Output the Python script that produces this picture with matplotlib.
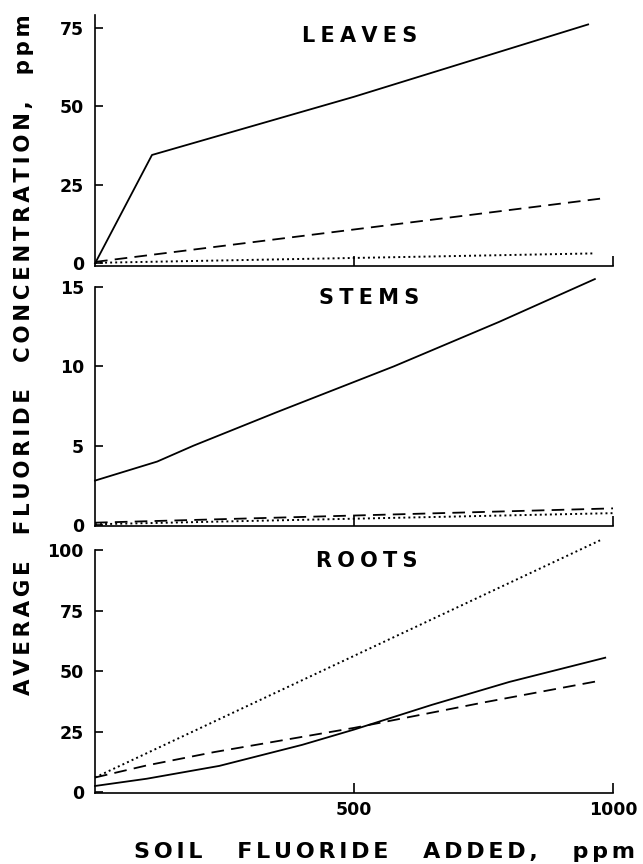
import matplotlib
matplotlib.use("Agg")
import matplotlib.pyplot as plt

plt.rcParams['font.family'] = ['DejaVu Sans']

# ---- data (soil fluoride added, ppm) ----
leaves_solid_x = [0, 110, 500, 952]
leaves_solid_y = [0, 34.5, 53, 76]
leaves_dash_x = [0, 975]
leaves_dash_y = [0.5, 20.6]
leaves_dot_x = [0, 962]
leaves_dot_y = [0.2, 3.2]

stems_solid_x = [0, 120, 190, 350, 577, 780, 965]
stems_solid_y = [2.8, 4.0, 5.0, 7.1, 10.0, 12.8, 15.5]
stems_dash_x = [0, 1000]
stems_dash_y = [0.15, 1.05]
stems_dot_x = [0, 1000]
stems_dot_y = [0.05, 0.75]

roots_solid_x = [0, 100, 240, 400, 500, 650, 800, 985]
roots_solid_y = [2.5, 5.5, 10.8, 19.5, 25.8, 36.0, 45.5, 55.5]
roots_dash_x = [0, 100, 230, 500, 750, 975]
roots_dash_y = [6, 11, 16.5, 26.5, 37, 46]
roots_dot_x = [0, 975]
roots_dot_y = [6, 104]

panel_titles = ["LEAVES", "STEMS", "ROOTS"]
leaves_yticks = [0, 25, 50, 75]
stems_yticks = [0, 5, 10, 15]
roots_yticks = [0, 25, 50, 75, 100]
xticks = [500, 1000]
xtick_labels = ["500", "1000"]
ylabel_text = "AVERAGE FLUORIDE CONCENTRATION, ppm"
xlabel_text = "SOIL FLUORIDE ADDED, ppm"


def spaced(text, gap='\u2006', word='\u2006   '):
    words = text.split(' ')
    return word.join(gap.join(w) for w in words)


W, H = 643, 864
fig = plt.figure(figsize=(W / 100, H / 100), dpi=100)


def ax_at(x0, x1, ytop, ybot):
    return fig.add_axes([x0 / W, 1 - ybot / H, (x1 - x0) / W, (ybot - ytop) / H])


x0, x1 = 95, 613
ax_l = ax_at(x0, x1, 15, 266)
ax_s = ax_at(x0, x1, 287, 526)
ax_r = ax_at(x0, x1, 550, 793)

dash = (0, (7, 4))
dot = (0, (1, 1.6))
lw = 1.3


def style(ax, ylim, yticks, title, tx, ty, show_xlabels):
    ax.set_xlim(0, 1000)
    ax.set_ylim(*ylim)
    for s in ['top', 'right']:
        ax.spines[s].set_visible(False)
    for s in ['left', 'bottom']:
        ax.spines[s].set_linewidth(1.2)
    ax.set_yticks(yticks)
    ax.set_yticklabels([str(v) for v in yticks], fontsize=12.5, fontweight='bold')
    ax.set_xticks(xticks)
    if show_xlabels:
        ax.set_xticklabels(xtick_labels, fontsize=12.5, fontweight='bold')
    else:
        ax.set_xticklabels([])
    ax.tick_params(axis='y', direction='in', length=6, width=1.2, pad=8)
    ax.tick_params(axis='x', direction='in', length=7, width=1.2, pad=6)
    ax.text(tx, ty, spaced(title, gap='\u2005'), transform=ax.transAxes,
            ha='center', va='top', fontsize=15, fontweight='bold')


# Leaves
ax_l.plot(leaves_solid_x, leaves_solid_y, color='black', lw=lw, clip_on=False)
ax_l.plot(leaves_dash_x, leaves_dash_y, color='black', lw=lw, ls=dash, clip_on=False)
ax_l.plot(leaves_dot_x, leaves_dot_y, color='black', lw=1.4, ls=dot, clip_on=False)
style(ax_l, (-0.8, 79), leaves_yticks, panel_titles[0], 0.51, 0.955, False)

# Stems
ax_s.plot(stems_solid_x, stems_solid_y, color='black', lw=lw, clip_on=False)
ax_s.plot(stems_dash_x, stems_dash_y, color='black', lw=lw, ls=dash, clip_on=False)
ax_s.plot(stems_dot_x, stems_dot_y, color='black', lw=1.4, ls=dot, clip_on=False)
style(ax_s, (-0.06, 15), stems_yticks, panel_titles[1], 0.53, 0.995, False)

# Roots
ax_r.plot(roots_solid_x, roots_solid_y, color='black', lw=lw, clip_on=False)
ax_r.plot(roots_dash_x, roots_dash_y, color='black', lw=lw, ls=dash, clip_on=False)
ax_r.plot(roots_dot_x, roots_dot_y, color='black', lw=1.4, ls=dot, clip_on=False)
style(ax_r, (-0.4, 100), roots_yticks, panel_titles[2], 0.525, 0.995, True)

fig.text(24 / W, 1 - 355 / H, spaced(ylabel_text),
         rotation=90, ha='center', va='center', fontsize=15.4, fontweight='bold')
fig.text(384 / W, 1 - 852 / H, spaced(xlabel_text, word='\u2006    '),
         ha='center', va='center', fontsize=16, fontweight='bold')

fig.savefig("out.png", dpi=100)
